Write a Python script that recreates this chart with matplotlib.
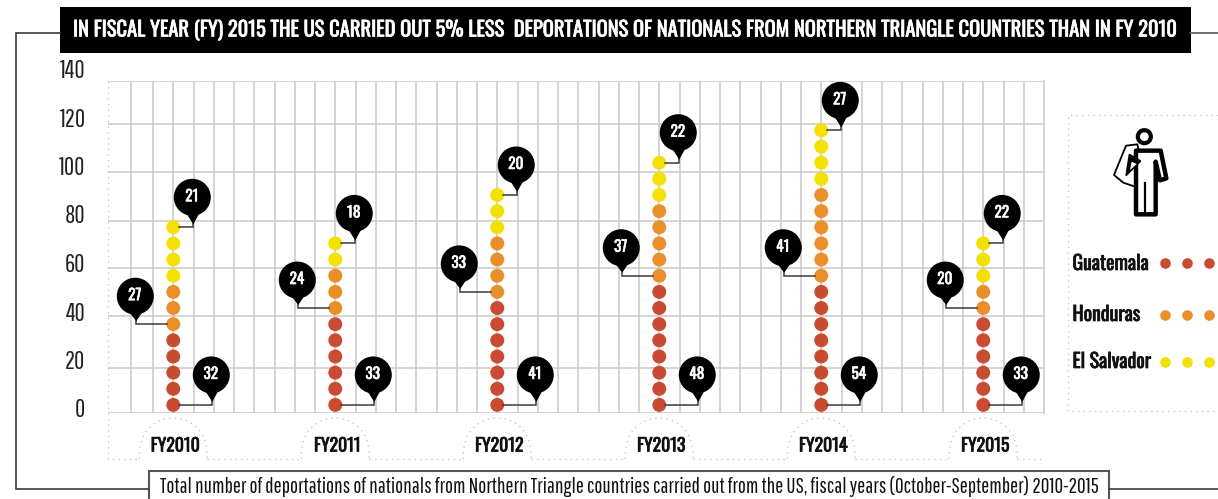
import numpy as np
import matplotlib
matplotlib.use('Agg')
import matplotlib.pyplot as plt
import matplotlib.patheffects as pe
from matplotlib.patches import Circle, Polygon, Ellipse, Rectangle

W, H = 1218, 499
BOLD = ['Oswald', 'Fjalla One', 'Antonio', 'DejaVu Sans']
THIN = ['Pathway Gothic One', 'Archivo Narrow', 'Barlow Condensed', 'DejaVu Sans']

years = ['FY2010', 'FY2011', 'FY2012', 'FY2013', 'FY2014', 'FY2015']
guatemala = [32, 33, 41, 48, 54, 33]
honduras = [27, 24, 33, 37, 41, 20]
el_salvador = [21, 18, 20, 22, 27, 22]
# dots as drawn in the original, about one per 6500 people
guatemala_dots = [5, 6, 7, 8, 8, 6]
honduras_dots = [3, 3, 4, 5, 6, 2]
el_salvador_dots = [4, 2, 3, 3, 4, 3]

y_labels = ['140', '120', '100', '80', '60', '40', '20', '0']
# gridlines are not evenly spaced in the original
y_grid = [140, 122, 101.6, 80.9, 61, 40.9, 19, 0]
y_label_px = [71, 120, 168, 216, 265, 314, 362, 410]

title = 'IN FISCAL YEAR (FY) 2015 THE US CARRIED OUT 5% LESS  DEPORTATIONS OF NATIONALS FROM NORTHERN TRIANGLE COUNTRIES THAN IN FY 2010'
subtitle = 'Total number of deportations of nationals from Northern Triangle countries carried out from the US, fiscal years (October-September) 2010-2015'

RED = '#C94B32'
ORANGE = '#EB8F2B'
YELLOW = '#F5E100'
GRID = '#C9C9C9'
LINE = '#3A3A3A'
DOTTED = '#BDBDBD'
DOT_STEP = 6.81


def heavy(col, w=0.5):
    # the installed condensed face is lighter than the original one
    return [pe.withStroke(linewidth=w, foreground=col)]


fig = plt.figure(figsize=(W / 100, H / 100), dpi=100, facecolor='white')

# overlay in pixel coordinates for the frame, pins and legend
ov = fig.add_axes([0, 0, 1, 1], zorder=3)
ov.set_xlim(0, W)
ov.set_ylim(H, 0)
ov.axis('off')
ov.patch.set_alpha(0)

ax = fig.add_axes([108 / W, 1 - 413 / H, (1044 - 108) / W, (413 - 81) / H], zorder=2)
ax.patch.set_alpha(0)
ax.set_xlim(-0.403, 5.375)
ax.set_ylim(0, 140)
ax.set_xticks(np.r_[-0.26, np.arange(-1, 43) / 8])
ax.set_yticks(y_grid)
ax.tick_params(length=0, labelleft=False, labelbottom=False)
ax.grid(True, color=GRID, lw=1.1)
ax.set_axisbelow(True)
for s in ['top', 'left', 'bottom']:
    ax.spines[s].set_visible(False)
ax.spines['right'].set_color('#D5D5D5')
ax.spines['right'].set_linewidth(1.5)


def to_px(x, y):
    p = ax.transData.transform((x, y))
    return p[0], H - p[1]


def pin(x0, y0, dx, dy, label):
    # x0, y0 is the dot, the pin hangs dx/dy pixels away from it
    cx, cy = x0 + dx, y0 - dy
    ov.plot([x0 + np.sign(dx) * 6, cx + 1, cx + 1], [y0, y0, cy + 22], color=LINE, lw=1.1, zorder=4, solid_joinstyle='miter')
    ov.add_patch(Circle((cx, cy), 18.5, fc='black', ec='none', zorder=5))
    ov.add_patch(Polygon([(cx - 6, cy + 16), (cx + 7, cy + 16), (cx + 1, cy + dy - 3)], fc='black', ec='none', zorder=5))
    ov.text(cx - 0.5, cy - 0.5, str(label), color='white', ha='center', va='center', fontsize=11,
            family=BOLD, zorder=6, path_effects=heavy('white', 0.4))


for i in range(len(years)):
    n1, n2, n3 = guatemala_dots[i], honduras_dots[i], el_salvador_dots[i]
    pos = (np.arange(n1 + n2 + n3) + 0.5) * DOT_STEP
    cols = [RED] * n1 + [ORANGE] * n2 + [YELLOW] * n3
    ax.scatter([i] * len(pos), pos, s=101, c=cols, linewidths=0, zorder=3, clip_on=False)
    xr, yr = to_px(i, pos[0])
    xo, yo = to_px(i, pos[n1])
    xs, ys = to_px(i, pos[-1])
    pin(xr, yr, 38, 30, guatemala[i])
    pin(xo, yo, -38, 28, honduras[i])
    pin(xs, ys, 19, 30, el_salvador[i])

    # dotted tab around the year label
    t = np.linspace(np.pi, 0, 60)
    ov.plot(xr + 34 * np.cos(t), 459 - 41 * np.sin(t) ** 0.8, color=DOTTED, lw=0.9, ls=(0, (1, 3.5)))
    ov.text(xr + 2, 445.5, years[i], ha='center', va='center', fontsize=12.8, family=BOLD, color='#111111',
            path_effects=heavy('#111111'))
    if i < len(years) - 1:
        xn, _ = to_px(i + 1, 0)
        ov.plot([xr + 34, xn - 34], [459, 459], color=DOTTED, lw=0.9, ls=(0, (1, 3.5)))

ov.plot([108, 108, 139], [81, 459, 459], color=DOTTED, lw=0.9, ls=(0, (1, 3.5)))
ov.plot([1017, 1045], [459, 459], color=DOTTED, lw=0.9, ls=(0, (1, 3.5)))

for lab, yp in zip(y_labels, y_label_px):
    ov.text(85.5, yp, lab, ha='right', va='center', fontsize=18, family=THIN, color='#222222')

# frame and title
ov.plot([60, 16, 16, 149], [33, 33, 489, 489], color=LINE, lw=1.2, solid_joinstyle='miter')
ov.plot([1190, W], [33, 33], color='#555555', lw=1.2)
ov.plot([1109, W], [489, 489], color=LINE, lw=1.2)
ov.add_patch(Rectangle((60, 7), 1131, 46, fc='black', ec='none'))
ov.text(73, 30, title, color='white', ha='left', va='center', fontsize=14.79, family=BOLD,
        path_effects=heavy('white'))
ov.add_patch(Rectangle((149, 470.5), 960, 40, fc='white', ec='#555555', lw=1.5, clip_on=True))
ov.text(160, 486.5, subtitle, color='#111111', ha='left', va='center', fontsize=15.38, family=THIN)

# legend
ov.plot([W, 1067.5, 1067.5, W], [115, 115, 410.5, 410.5], color=DOTTED, lw=0.9, ls=(0, (1, 3.5)))
for name, col, yp, dot_y in [('Guatemala', RED, 263, 263), ('Honduras', ORANGE, 314, 315), ('El Salvador', YELLOW, 361, 362)]:
    ov.text(1072.5, yp, name, ha='left', va='center', fontsize=14.3, family=BOLD, color='#111111',
            path_effects=heavy('#111111'))
    ov.scatter([1165, 1187, 1209], [dot_y] * 3, s=58, c=col, linewidths=0)

# deportee icon
ox, oy = 1100, 115
def ic(pts):
    return [(ox + a / 3, oy + b / 3) for a, b in pts]

ov.add_patch(Polygon(ic([(78, 92), (112, 88), (122, 130), (105, 215), (70, 203), (42, 180)]), fc='white', ec='black', lw=1.3, joinstyle='round'))
ov.add_patch(Polygon(ic([(108, 107), (182, 107), (199, 190), (180, 196), (167, 140), (167, 298), (108, 298)]), fc='white', ec='black', lw=3.2, joinstyle='round', zorder=3))
ov.plot(*zip(*ic([(134, 205), (134, 298)])), color='black', lw=1.6, zorder=4)
ov.add_patch(Polygon(ic([(88, 118), (122, 138), (78, 182)]), fc='black', ec='black', lw=1, zorder=4))
ov.add_patch(Polygon(ic([(95, 140), (110, 147), (90, 165)]), fc='white', ec='none', zorder=5))
ov.add_patch(Ellipse(ic([(133, 65)])[0], 13, 13, fc='white', ec='black', lw=3))

fig.savefig('out.png', dpi=100, facecolor='white')
